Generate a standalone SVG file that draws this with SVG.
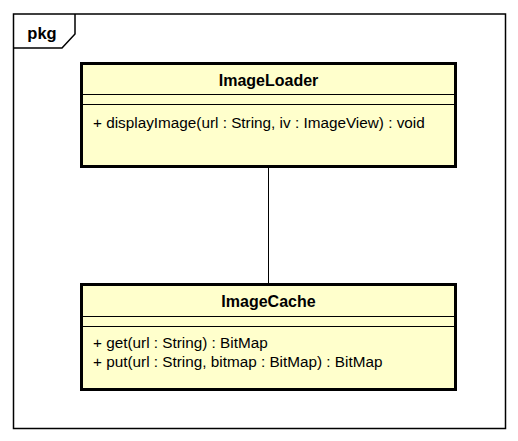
<svg xmlns="http://www.w3.org/2000/svg" width="518" height="441" viewBox="0 0 518 441">
<style>
.frame{fill:none;stroke:#000;stroke-width:1.5}
.box{fill:#ffffcc;stroke:#000;stroke-width:3}
.sep{stroke:#000;stroke-width:1}
.t{font-family:"Liberation Sans",Arial,sans-serif;font-size:15.3px;fill:#000}
.b{font-weight:bold;text-anchor:middle;font-size:16px}
</style>
<rect width="518" height="441" fill="#fff"/>
<g id="pkg">
<rect class="frame" x="13.5" y="14" width="492" height="414.5"/>
<path class="frame" d="M13.5 48 H62 L75 34 V14"/>
<text class="t b" x="42" y="39" style="font-size:16.5px">pkg</text>
</g>
<g id="connectors">
<line x1="268.5" y1="168" x2="268.5" y2="283" stroke="#000" stroke-width="1"/>
</g>
<g id="ImageLoader">
<rect class="box" x="81.5" y="63.5" width="374" height="103"/>
<line class="sep" x1="81.5" y1="94.5" x2="455.5" y2="94.5"/>
<line class="sep" x1="81.5" y1="104.5" x2="455.5" y2="104.5"/>
<text class="t b" x="268.5" y="86">ImageLoader</text>
<text class="t" x="93" y="128">+ displayImage(url : String, iv : ImageView) : void</text>
</g>
<g id="ImageCache">
<rect class="box" x="81.5" y="284.5" width="374" height="105"/>
<line class="sep" x1="81.5" y1="316.5" x2="455.5" y2="316.5"/>
<line class="sep" x1="81.5" y1="326.5" x2="455.5" y2="326.5"/>
<text class="t b" x="268.5" y="307">ImageCache</text>
<text class="t" x="93" y="348">+ get(url : String) : BitMap</text>
<text class="t" x="93" y="367">+ put(url : String, bitmap : BitMap) : BitMap</text>
</g>
</svg>
